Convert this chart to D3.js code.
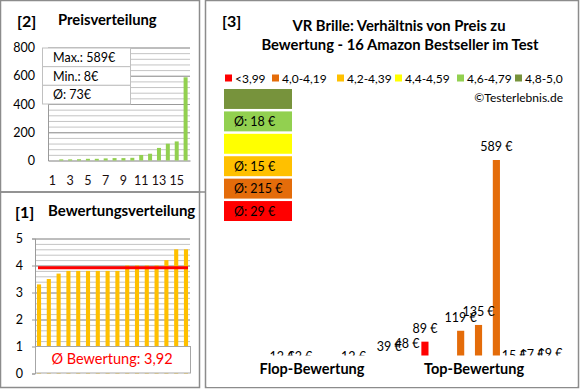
<!DOCTYPE html>
<html>
<head>
<meta charset="utf-8">
<script src="https://cdn.jsdelivr.net/npm/d3@7"></script>
<style>
body { margin: 0; background: #fff; }
svg { font-family: Lato, "Open Sans", sans-serif; }
</style>
</head>
<body>
<script>
// products sorted by rating (flop -> top)
var ratings = [3.3, 3.5, 3.7, 3.8, 3.8, 3.8, 3.8, 3.8, 3.8, 4.0, 4.0, 4.0, 4.0, 4.2, 4.6, 4.6];
var prices = [12, 12, 0, 0, 12, 0, 39, 48, 89, 0, 119, 135, 589, 15, 17, 19];
// price distribution, panel [2]
var priceDist = [0, 8, 8, 9, 12, 12, 15, 17, 17, 19, 39, 48, 89, 119, 135, 589];
var priceStats = ["Max.: 589€", "Min.: 8€", "Ø: 73€"];
var ratingMean = 3.92;
var ratingMeanText = "Ø Bewertung: 3,92";
// rating groups
var groups = ["<3,99", "4,0-4,19", "4,2-4,39", "4,4-4,59", "4,6-4,79", "4,8-5,0"];
var groupLimits = [4.0, 4.2, 4.4, 4.6, 4.8, 5.01];
var groupColors = ["#FF0000", "#E46C0A", "#FFC000", "#FFFF00", "#92D050", "#77933C"];
var groupAvg = [29, 215, 15, null, 18, null];

var svg = d3.select("body").append("svg")
    .attr("width", 580)
    .attr("height", 390);

function groupOf(r) {
    for (var i = 0; i < groupLimits.length; i++) {
        if (r < groupLimits[i]) return i;
    }
    return groupLimits.length - 1;
}

// frames
var frameColor = "#8c8c8c";
svg.append("rect").attr("x", 0.5).attr("y", 0.5).attr("width", 199).attr("height", 191.5)
    .attr("fill", "none").attr("stroke", frameColor).attr("stroke-width", 1.5);
svg.append("rect").attr("x", 0.5).attr("y", 192).attr("width", 199).attr("height", 195.5)
    .attr("fill", "none").attr("stroke", frameColor).attr("stroke-width", 1.5);
svg.append("line").attr("x1", 199).attr("x2", 206).attr("y1", 192).attr("y2", 192)
    .attr("stroke", frameColor).attr("stroke-width", 1.5);
svg.append("rect").attr("x", 205.5).attr("y", 0.5).attr("width", 373).attr("height", 387)
    .attr("fill", "none").attr("stroke", frameColor).attr("stroke-width", 1.5);

// ---------- panel [2] Preisverteilung ----------
var p2 = svg.append("g");
p2.append("text").text("[2]").attr("x", 17).attr("y", 27)
    .style("font-size", "16px").style("font-weight", "bold");
p2.append("text").text("Preisverteilung").attr("x", 58).attr("y", 25)
    .style("font-size", "14.8px").style("font-weight", "bold");

var x2 = d3.scaleBand().domain(d3.range(1, 17)).range([48, 190]).paddingInner(0.55).paddingOuter(0.27);
var y2 = d3.scaleLinear().domain([0, 800]).range([160.5, 47.5]);

// minor grid
p2.append("g").attr("transform", "translate(48,0)")
    .call(d3.axisLeft(y2).tickValues(d3.range(40, 801, 40)).tickSize(-142).tickFormat(""))
    .call(function(g) { g.select(".domain").remove(); g.selectAll("line").attr("stroke", "#c4c4c4"); });
// major grid
p2.append("g").attr("transform", "translate(48,0)")
    .call(d3.axisLeft(y2).tickValues([200, 400, 600, 800]).tickSize(-142).tickFormat(""))
    .call(function(g) { g.select(".domain").remove(); g.selectAll("line").attr("stroke", "#9a9a9a"); });
// y labels
p2.append("g").attr("transform", "translate(48,0)")
    .call(d3.axisLeft(y2).tickValues([0, 200, 400, 600, 800]).tickSize(0).tickPadding(13))
    .call(function(g) {
        g.select(".domain").attr("stroke", "#9a9a9a");
        g.selectAll("text").style("font-size", "12.5px").attr("fill", "#000").style("font-family", "Lato, sans-serif");
    });
// x labels
p2.append("g").attr("transform", "translate(0,160.5)")
    .call(d3.axisBottom(x2).tickValues(d3.range(1, 17, 2)).tickSize(0).tickPadding(16))
    .call(function(g) {
        g.select(".domain").attr("stroke", "#808080");
        g.selectAll("text").style("font-size", "12.5px").attr("fill", "#1a0d0d").style("font-family", "Lato, sans-serif");
    });

p2.selectAll(".pbar").data(priceDist).enter().append("rect")
    .attr("class", "pbar")
    .attr("x", function(d, i) { return x2(i + 1); })
    .attr("width", x2.bandwidth())
    .attr("y", function(d) { return y2(d); })
    .attr("height", function(d) { return y2(0) - y2(d); })
    .attr("fill", "#92D050");

// stats box
var statRow = d3.scaleBand().domain(d3.range(priceStats.length)).range([48, 104]);
p2.selectAll(".statbox").data(priceStats).enter().append("rect")
    .attr("class", "statbox")
    .attr("x", 42.5).attr("width", 88)
    .attr("y", function(d, i) { return statRow(i); })
    .attr("height", statRow.bandwidth())
    .attr("fill", "#fff").attr("stroke", "#c0c0c0");
p2.selectAll(".stattext").data(priceStats).enter().append("text")
    .attr("class", "stattext")
    .text(function(d) { return d; })
    .attr("x", 53)
    .attr("y", function(d, i) { return statRow(i) + statRow.bandwidth() / 2 + 4.5; })
    .style("font-size", "12.5px");

// ---------- panel [1] Bewertungsverteilung ----------
var p1 = svg.append("g");
p1.append("text").text("[1]").attr("x", 15).attr("y", 218)
    .style("font-size", "16px").style("font-weight", "bold");
p1.append("text").text("Bewertungsverteilung").attr("x", 48).attr("y", 216)
    .style("font-size", "15px").style("font-weight", "bold");

var x1 = d3.scaleBand().domain(d3.range(ratings.length)).range([35, 190]).paddingInner(0.58).paddingOuter(0.2);
var y1 = d3.scaleLinear().domain([0, 5]).range([373.5, 238.5]);

p1.append("g").attr("transform", "translate(35,0)")
    .call(d3.axisLeft(y1).tickValues(d3.range(0.2, 5.01, 0.2)).tickSize(-155).tickFormat(""))
    .call(function(g) { g.select(".domain").remove(); g.selectAll("line").attr("stroke", "#c4c4c4"); });
p1.append("g").attr("transform", "translate(35,0)")
    .call(d3.axisLeft(y1).tickValues([1, 2, 3, 4, 5]).tickSize(-155).tickFormat(""))
    .call(function(g) { g.select(".domain").remove(); g.selectAll("line").attr("stroke", "#9a9a9a"); });
p1.append("g").attr("transform", "translate(35,0)")
    .call(d3.axisLeft(y1).ticks(5).tickSize(3).tickPadding(9))
    .call(function(g) {
        g.select(".domain").attr("stroke", "#9a9a9a");
        g.selectAll("line").attr("stroke", "#9a9a9a");
        g.selectAll("text").style("font-size", "12.5px").attr("fill", "#000").style("font-family", "Lato, sans-serif");
    });

p1.selectAll(".rbar").data(ratings).enter().append("rect")
    .attr("class", "rbar")
    .attr("x", function(d, i) { return x1(i); })
    .attr("width", x1.bandwidth())
    .attr("y", function(d) { return y1(d); })
    .attr("height", function(d) { return y1(0) - y1(d); })
    .attr("fill", "#FFC000");

p1.append("line")
    .attr("x1", 38).attr("x2", 188)
    .attr("y1", y1(ratingMean)).attr("y2", y1(ratingMean))
    .attr("stroke", "#FF0000").attr("stroke-width", 3);

p1.append("rect")
    .attr("x", 35.5).attr("width", 155)
    .attr("y", y1(1)).attr("height", y1(0) - y1(1) - 0.5)
    .attr("fill", "#fff").attr("stroke", "#a6a6a6");
p1.append("text").text(ratingMeanText)
    .attr("x", 112).attr("y", 364)
    .attr("text-anchor", "middle")
    .attr("fill", "#FF0000")
    .style("font-size", "14.5px");

// ---------- panel [3] Preis zu Bewertung ----------
var p3 = svg.append("g");
p3.append("text").text("[3]").attr("x", 222).attr("y", 27)
    .style("font-size", "16px").style("font-weight", "bold");
p3.append("text").text("VR Brille: Verhältnis von Preis zu")
    .attr("x", 399).attr("y", 31).attr("text-anchor", "middle")
    .style("font-size", "14.8px").style("font-weight", "bold");
p3.append("text").text("Bewertung - 16 Amazon Bestseller im Test")
    .attr("x", 400).attr("y", 50).attr("text-anchor", "middle")
    .style("font-size", "14.8px").style("font-weight", "bold");

// legend
var legendX = [225, 272, 337, 395, 457, 515];
var leg = p3.selectAll(".leg").data(groups).enter().append("g")
    .attr("class", "leg")
    .attr("transform", function(d, i) { return "translate(" + legendX[i] + ",78)"; });
leg.append("rect").attr("x", 0).attr("y", -3.5).attr("width", 7).attr("height", 7)
    .attr("fill", function(d, i) { return groupColors[i]; });
leg.append("text").text(function(d) { return d; })
    .attr("x", 10).attr("y", 4.5)
    .style("font-size", "12px");

p3.append("text").text("©Testerlebnis.de")
    .attr("x", 563).attr("y", 102).attr("text-anchor", "end")
    .style("font-size", "12px");

// group average boxes
var yg = d3.scaleBand().domain(d3.range(groups.length).reverse()).range([89, 221]).paddingInner(0.11);
p3.selectAll(".avgbox").data(groups).enter().append("rect")
    .attr("class", "avgbox")
    .attr("x", 224).attr("width", 68)
    .attr("y", function(d, i) { return yg(i); })
    .attr("height", yg.bandwidth())
    .attr("fill", function(d, i) { return groupColors[i]; });
p3.selectAll(".avgtext").data(groupAvg).enter().append("text")
    .attr("class", "avgtext")
    .text(function(d) { return d === null ? "" : "Ø: " + d + " €"; })
    .attr("x", 234)
    .attr("y", function(d, i) { return yg(i) + yg.bandwidth() / 2 + 4.5; })
    .style("font-size", "12.5px");

// price bars by rating
var x3 = d3.scaleBand().domain(d3.range(prices.length)).range([274, 558]).paddingInner(0.6).paddingOuter(0.25);
var y3 = d3.scaleLinear().domain([0, 589]).range([374, 160]);

p3.selectAll(".bar3").data(prices).enter().append("rect")
    .attr("class", "bar3")
    .attr("x", function(d, i) { return x3(i); })
    .attr("width", x3.bandwidth())
    .attr("y", function(d) { return y3(d); })
    .attr("height", function(d) { return y3(0) - y3(d); })
    .attr("fill", function(d, i) { return groupColors[groupOf(ratings[i])]; });
// products without price get no label (it would sit under the cover anyway)
p3.selectAll(".lab3").data(prices).enter().append("text")
    .attr("class", "lab3")
    .text(function(d) { return d > 0 ? d + " €" : ""; })
    .attr("x", function(d, i) { return x3(i) + x3.bandwidth() / 2; })
    .attr("y", function(d) { return y3(d) - 9; })
    .attr("text-anchor", "middle")
    .style("font-size", "12.5px");

// category area covers the bar bottoms
p3.append("rect").attr("x", 207).attr("y", 355.5).attr("width", 370).attr("height", 31.5).attr("fill", "#fff");
p3.append("text").text("Flop-Bewertung")
    .attr("x", 312).attr("y", 374).attr("text-anchor", "middle")
    .style("font-size", "14.5px").style("font-weight", "bold");
p3.append("text").text("Top-Bewertung")
    .attr("x", 474).attr("y", 374).attr("text-anchor", "middle")
    .style("font-size", "14.5px").style("font-weight", "bold");
</script>
</body>
</html>
